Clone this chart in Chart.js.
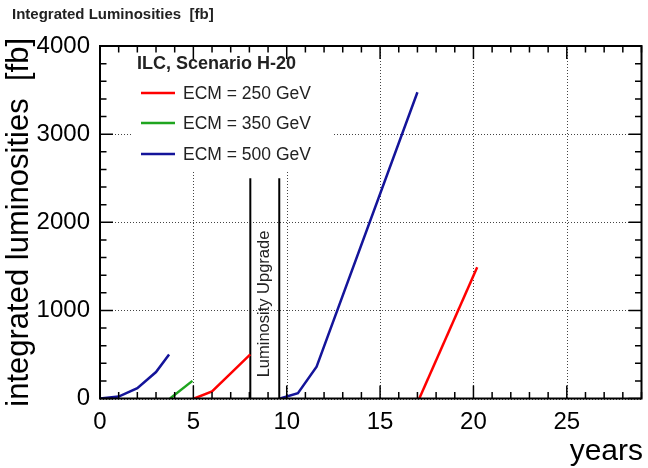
<!DOCTYPE html>
<html>
<head>
<meta charset="utf-8">
<script src="https://cdn.jsdelivr.net/npm/chart.js@4/dist/chart.umd.min.js"></script>
<style>
html,body{margin:0;padding:0;background:#fff;}
#wrap{width:648px;height:468px;}
</style>
</head>
<body>
<div id="wrap"><canvas id="c" width="648" height="468"></canvas></div>
<script>
// ---- data ----
const years500a = [0, 1, 2, 3, 3.7];
const lumi500a  = [0, 22, 118, 300, 500];
const years350  = [3.75, 4.95];
const lumi350   = [0, 200];
const years250a = [5.05, 6, 7, 8.05];
const lumi250a  = [0, 80, 285, 500];
const years500b = [9.65, 10.6, 11.6, 17.0];
const lumi500b  = [0, 60, 360, 3475];
const years250b = [17.1, 20.2];
const lumi250b  = [0, 1490];
const upgradeYears = [8.05, 9.6];
const upgradeRange = [0, 2500];
const xTickValues = [0, 5, 10, 15, 20, 25];
const yTickValues = [0, 1000, 2000, 3000, 4000];
const legendLabels = ['ECM = 250 GeV', 'ECM = 350 GeV', 'ECM = 500 GeV'];
const legendHeader = 'ILC, Scenario H-20';
const titleText = 'Integrated Luminosities  [fb]';
const xTitle = 'years';
const yTitle = 'integrated luminosities  [fb]';
const upgradeText = 'Luminosity Upgrade';

const RED = '#ff0000', GREEN = '#1fa51f', BLUE = '#14149a';
const FONT = '"Liberation Sans", Arial, Helvetica, sans-serif';

function pts(xs, ys) { return xs.map((x, i) => ({x: x, y: ys[i]})); }
function line(data, color, w) {
  return {data: data, borderColor: color, backgroundColor: color, borderWidth: w,
          pointRadius: 0, showLine: true, tension: 0, fill: false};
}

const datasets = [
  line(pts(years500a, lumi500a), BLUE, 2.5),
  line(pts(years350, lumi350), GREEN, 2.5),
  line(pts(years250a, lumi250a), RED, 2.5),
  line(pts(years500b, lumi500b), BLUE, 2.5),
  line(pts(years250b, lumi250b), RED, 2.5),
  line(pts([upgradeYears[0], upgradeYears[0]], upgradeRange), '#000', 2),
  line(pts([upgradeYears[1], upgradeYears[1]], upgradeRange), '#000', 2)
];

const decor = {
  id: 'decor',
  beforeDatasetsDraw(chart) {
    const ctx = chart.ctx;
    const a = chart.chartArea;
    const xs = chart.scales.x, ys = chart.scales.y;
    ctx.save();
    // dotted grid at the major ticks
    ctx.strokeStyle = '#444';
    ctx.lineWidth = 1;
    ctx.setLineDash([1, 2]);
    ctx.beginPath();
    xs.ticks.forEach(t => {
      const px = Math.round(xs.getPixelForValue(t.value)) + 0.5;
      ctx.moveTo(px, a.top); ctx.lineTo(px, a.bottom);
    });
    ys.ticks.forEach(t => {
      const py = Math.round(ys.getPixelForValue(t.value)) + 0.5;
      ctx.moveTo(a.left, py); ctx.lineTo(a.right, py);
    });
    ctx.stroke();
    ctx.setLineDash([]);
    // legend box (white, hides grid)
    ctx.fillStyle = '#fff';
    ctx.fillRect(133, 49, 199, 121);
    ctx.fillStyle = '#222';
    ctx.textBaseline = 'middle';
    ctx.textAlign = 'left';
    ctx.font = 'bold 18px ' + FONT;
    ctx.fillText(legendHeader, 137, 64);
    const cols = [RED, GREEN, BLUE];
    const yy = [93, 123, 154];
    ctx.font = '17.5px ' + FONT;
    for (let i = 0; i < 3; i++) {
      ctx.strokeStyle = cols[i];
      ctx.lineWidth = 2.5;
      ctx.beginPath();
      ctx.moveTo(141, yy[i]);
      ctx.lineTo(175, yy[i]);
      ctx.stroke();
      ctx.fillStyle = '#222';
      ctx.fillText(legendLabels[i], 183, yy[i] + 1);
    }
    ctx.restore();
  },
  afterDatasetsDraw(chart) {
    const ctx = chart.ctx;
    const a = chart.chartArea;
    const xs = chart.scales.x, ys = chart.scales.y;
    ctx.save();
    ctx.strokeStyle = '#000';
    ctx.lineWidth = 1.5;
    // inward ticks on all sides
    ctx.beginPath();
    for (let v = 0; v <= 29; v += 1) {
      const px = xs.getPixelForValue(v);
      const len = (v % 5 === 0) ? 13 : 6.5;
      ctx.moveTo(px, a.bottom); ctx.lineTo(px, a.bottom - len);
      ctx.moveTo(px, a.top); ctx.lineTo(px, a.top + len);
    }
    for (let v = 0; v <= 4000; v += 200) {
      const py = ys.getPixelForValue(v);
      const len = (v % 1000 === 0) ? 13 : 6.5;
      ctx.moveTo(a.left, py); ctx.lineTo(a.left + len, py);
      ctx.moveTo(a.right, py); ctx.lineTo(a.right - len, py);
    }
    ctx.stroke();
    ctx.lineWidth = 2;
    ctx.strokeRect(a.left, a.top, a.right - a.left, a.bottom - a.top);
    // upgrade label
    ctx.fillStyle = '#222';
    ctx.font = '16.5px ' + FONT;
    ctx.textAlign = 'center';
    ctx.textBaseline = 'middle';
    const cx = (xs.getPixelForValue(upgradeYears[0]) + xs.getPixelForValue(upgradeYears[1])) / 2;
    ctx.translate(cx, 304);
    ctx.rotate(-Math.PI / 2);
    ctx.fillText(upgradeText, 0, 0);
    ctx.restore();
  },
  afterDraw(chart) {
    const ctx = chart.ctx;
    ctx.save();
    ctx.fillStyle = '#222';
    ctx.textBaseline = 'middle';
    ctx.textAlign = 'left';
    ctx.font = 'bold 15px ' + FONT;
    ctx.fillText(titleText, 12, 15);
    ctx.fillStyle = '#000';
    ctx.font = '30px ' + FONT;
    ctx.textAlign = 'right';
    ctx.fillText(xTitle, 643, 452);
    ctx.font = '31px ' + FONT;
    ctx.translate(19, 38);
    ctx.rotate(-Math.PI / 2);
    ctx.fillText(yTitle, 0, 0);
    ctx.restore();
  }
};

Chart.defaults.font.family = FONT;

new Chart(document.getElementById('c'), {
  type: 'scatter',
  data: {datasets: datasets},
  options: {
    responsive: false,
    animation: false,
    events: [],
    layout: {padding: {top: 46, right: 6.5, left: 0, bottom: 0}},
    plugins: {legend: {display: false}, tooltip: {enabled: false}, title: {display: false}},
    scales: {
      x: {
        type: 'linear', min: 0, max: 29,
        afterFit(s) { s.height = 69.5; },
        afterBuildTicks(s) { s.ticks = xTickValues.map(v => ({value: v})); },
        grid: {display: false, drawTicks: false},
        border: {display: false},
        ticks: {color: '#000', font: {size: 24}, padding: 9, maxRotation: 0,
                callback: v => String(v)}
      },
      y: {
        type: 'linear', min: 0, max: 4000,
        afterFit(s) { s.width = 100; },
        afterBuildTicks(s) { s.ticks = yTickValues.map(v => ({value: v})); },
        grid: {display: false, drawTicks: false},
        border: {display: false},
        ticks: {color: '#000', font: {size: 24}, padding: 10,
                callback: v => String(v)}
      }
    }
  },
  plugins: [decor]
});
</script>
</body>
</html>
